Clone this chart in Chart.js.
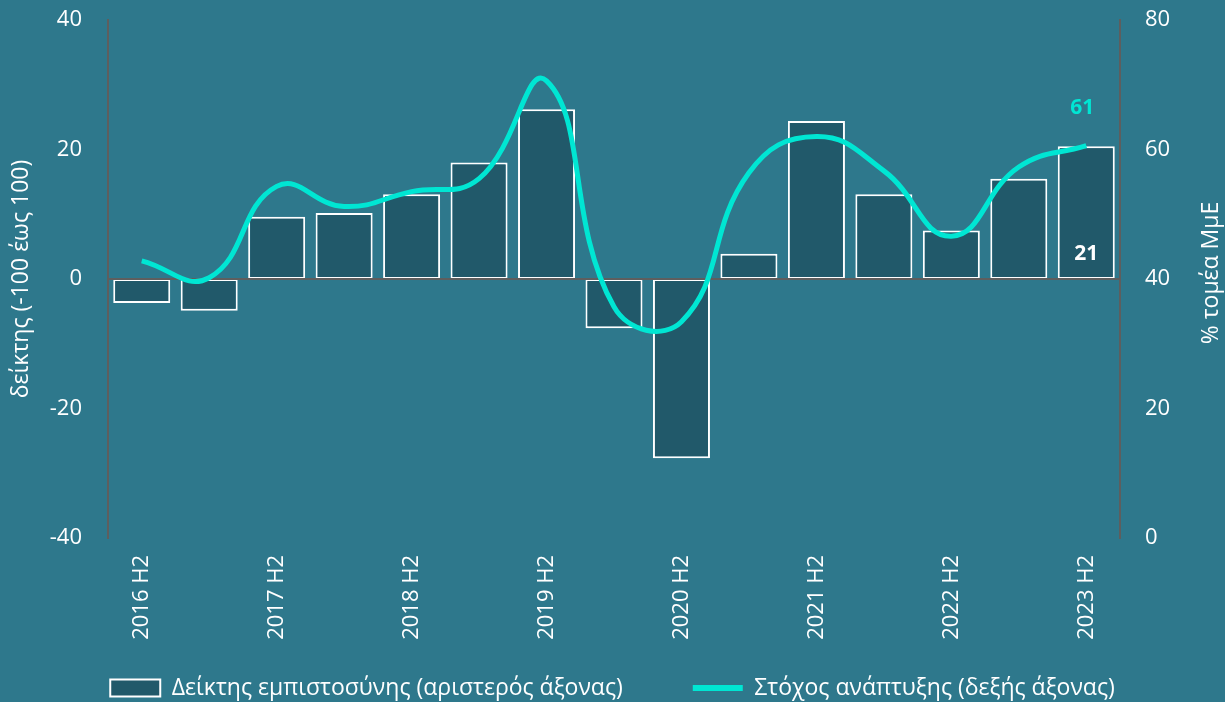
<!DOCTYPE html>
<html>
<head>
<meta charset="utf-8">
<script src="https://cdn.jsdelivr.net/npm/chart.js@4"></script>
<style>
    html, body { margin: 0; padding: 0; background: #2E788C; }
    canvas { display: block; }
</style>
</head>
<body>
<canvas id="smeChart" width="1225" height="702"></canvas>
<script>

const periods = [
    "2016 H2", "2017 H1", "2017 H2", "2018 H1", "2018 H2",
    "2019 H1", "2019 H2", "2020 H1", "2020 H2", "2021 H1",
    "2021 H2", "2022 H1", "2022 H2", "2023 H1", "2023 H2"
]

// δείκτης εμπιστοσύνης (αριστερός άξονας)
const confidenceIndex = [
    -3.7, -4.9, 9.6, 10.2, 13.1, 18.0, 26.2, -7.6,
    -27.7, 3.9, 24.4, 13.1, 7.5, 15.5, 20.5
]

// στόχος ανάπτυξης, % ΜμΕ (δεξής άξονας)
const growthTarget = [
    42.8, 40.2, 54.3, 51.2, 53.5, 55.5, 70.6, 35.7,
    33.4, 56.4, 62.0, 56.7, 46.6, 57.3, 60.6
]

const seriesNames = [
    "Δείκτης εμπιστοσύνης (αριστερός άξονας)",
    "Στόχος ανάπτυξης (δεξής άξονας)"
]

const leftTitle = "δείκτης (-100 έως 100)"
const rightTitle = "% τομέα ΜμΕ"

const FONT = "'Open Sans', 'DejaVu Sans', sans-serif"
const TEXT = "#FFFFFF"
const AXIS = "#5E5E5E"
const BAR_FILL = "#21596A"
const LINE = "#00E6D3"
const LEGEND_FONT = 23
const LEGEND_PAD = 12
const LEGEND_GAP = 70
const PLOT_BOTTOM = 538

const extrasPlugin = {
    id: "extras",

    afterLayout(chart) {
        const legend = chart.legend

        // wider gap between the two legend items (layout keeps the small padding)
        try {
            const itemsWidth = legend.lineWidths[0] - 2 * LEGEND_PAD
            legend.options.labels.padding = LEGEND_GAP
            legend.lineWidths[0] = itemsWidth + 2 * LEGEND_GAP
        } catch (e) {}

        // put the legend row where the reference has it (box grows so nothing is clipped)
        const pad = legend.options.labels.padding
        legend.top = 688 - pad - LEGEND_FONT / 2
        legend.bottom = chart.height
        legend.height = legend.bottom - legend.top
    },

    afterDatasetDraw(chart, args) {
        // zero axis line sits over the bars but under the line series
        if (args.index !== 0) return
        const ctx = chart.ctx
        const area = chart.chartArea
        const zeroY = Math.round(chart.scales.y.getPixelForValue(0))
        ctx.save()
        ctx.strokeStyle = AXIS
        ctx.lineWidth = 2
        ctx.beginPath()
        ctx.moveTo(area.left, zeroY)
        ctx.lineTo(area.right, zeroY)
        ctx.stroke()
        ctx.restore()
    },

    afterDatasetsDraw(chart) {
        const ctx = chart.ctx
        const last = periods.length - 1
        const barPt = chart.getDatasetMeta(0).data[last]
        const linePt = chart.getDatasetMeta(1).data[last]
        const zeroY = chart.scales.y.getPixelForValue(0)

        ctx.save()
        ctx.textAlign = "center"
        ctx.textBaseline = "middle"
        ctx.font = "bold 21px " + FONT

        ctx.fillStyle = TEXT
        ctx.fillText(String(Math.round(confidenceIndex[last])), barPt.x, zeroY - 25)

        ctx.fillStyle = LINE
        ctx.fillText(String(Math.round(growthTarget[last])), linePt.x - 4, linePt.y - 38)

        // right title reads bottom to top
        const area = chart.chartArea
        ctx.translate(1211, (area.top + area.bottom) / 2 - 6)
        ctx.rotate(-Math.PI / 2)
        ctx.fillStyle = TEXT
        ctx.font = "23px " + FONT
        ctx.fillText(rightTitle, 0, 0)
        ctx.restore()
    }
}

const smeChart = new Chart(
    document.getElementById("smeChart"),
    {
        data: {
            labels: periods,

            datasets: [
                {
                    type: "bar",
                    label: seriesNames[0],
                    data: confidenceIndex,
                    yAxisID: "y",
                    backgroundColor: BAR_FILL,
                    borderColor: "#FFFFFF",
                    borderWidth: 2,
                    borderSkipped: false,
                    categoryPercentage: 1,
                    barPercentage: 0.845,
                    pointStyle: "rect",
                    order: 1
                },
                {
                    type: "line",
                    label: seriesNames[1],
                    data: growthTarget,
                    yAxisID: "y2",
                    borderColor: LINE,
                    backgroundColor: LINE,
                    borderWidth: 5,
                    tension: 0.45,
                    pointRadius: 0,
                    pointStyle: "line",
                    order: 0
                }
            ]
        },

        options: {
            responsive: false,
            animation: false,
            devicePixelRatio: 1,

            layout: {
                padding: { top: 20, left: 0, right: 0, bottom: 0 }
            },

            plugins: {
                legend: {
                    position: "bottom",
                    labels: {
                        color: TEXT,
                        font: { family: FONT, size: LEGEND_FONT },
                        usePointStyle: true,
                        pointStyleWidth: 50,
                        boxHeight: 17,
                        padding: LEGEND_PAD,
                        sort: (a, b) => a.datasetIndex - b.datasetIndex,
                        generateLabels(chart) {
                            const items = Chart.defaults.plugins.legend.labels.generateLabels(chart)
                            items.forEach(item => {
                                if (item.datasetIndex === 1) item.lineWidth = 6
                            })
                            return items
                        }
                    }
                },
                tooltip: { enabled: false }
            },

            scales: {
                x: {
                    offset: true,
                    grid: { display: false, drawTicks: false },
                    border: { display: false },
                    ticks: {
                        color: TEXT,
                        font: { family: FONT, size: 22 },
                        autoSkip: false,
                        maxRotation: 90,
                        minRotation: 90,
                        padding: 17,
                        callback(value) {
                            const label = this.getLabelForValue(value)
                            return label.endsWith("H2") ? label : ""
                        }
                    },
                    afterFit(scale) {
                        const legend = scale.chart.legend
                        scale.height = 702 - PLOT_BOTTOM - (legend ? legend.height : 0)
                    }
                },

                y: {
                    position: "left",
                    min: -40,
                    max: 40,
                    border: { display: true, color: AXIS, width: 2 },
                    grid: { display: false, drawTicks: false },
                    ticks: {
                        stepSize: 20,
                        color: TEXT,
                        font: { family: FONT, size: 22 },
                        padding: 26
                    },
                    title: {
                        display: true,
                        text: leftTitle,
                        color: TEXT,
                        font: { family: FONT, size: 23 },
                        padding: { top: 8, bottom: 0 }
                    },
                    afterFit(scale) {
                        scale.width = 108
                        scale.paddingTop = 0
                        scale.paddingBottom = 0
                    }
                },

                y2: {
                    position: "right",
                    min: 0,
                    max: 80,
                    border: { display: true, color: AXIS, width: 2 },
                    grid: { display: false, drawTicks: false },
                    ticks: {
                        stepSize: 20,
                        color: TEXT,
                        font: { family: FONT, size: 22 },
                        padding: 25
                    },
                    afterFit(scale) {
                        scale.width = 105
                        scale.paddingTop = 0
                        scale.paddingBottom = 0
                    }
                }
            }
        },

        plugins: [extrasPlugin]
    }
)
</script>
</body>
</html>
